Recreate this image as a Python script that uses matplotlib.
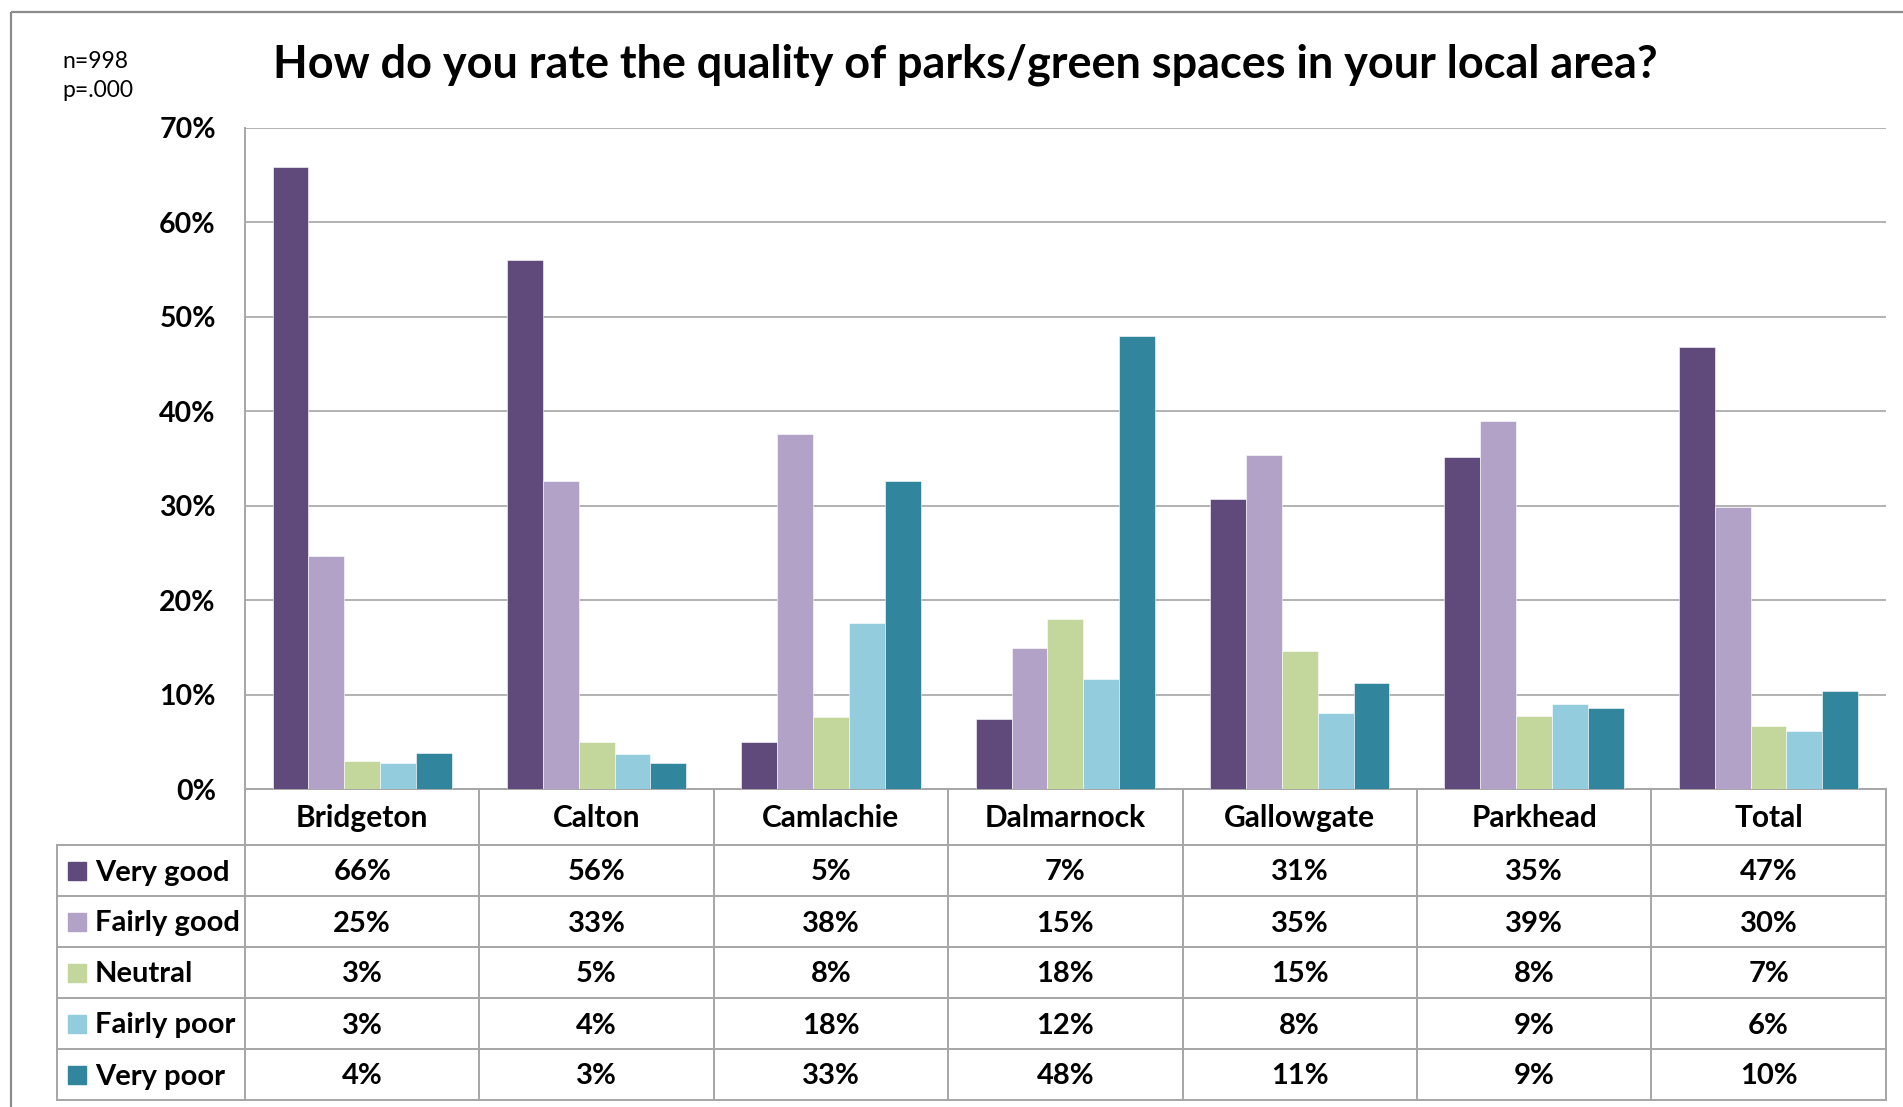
import numpy as np
import matplotlib
matplotlib.use('Agg')
import matplotlib.pyplot as plt
from matplotlib import transforms
from matplotlib.lines import Line2D
from matplotlib.patches import Rectangle

# survey results, % of respondents per area
areas = ['Bridgeton', 'Calton', 'Camlachie', 'Dalmarnock', 'Gallowgate', 'Parkhead', 'Total']
ratings = ['Very good', 'Fairly good', 'Neutral', 'Fairly poor', 'Very poor']
very_good = [65.8, 56.0, 5.0, 7.4, 30.7, 35.1, 46.8]
fairly_good = [24.7, 32.6, 37.6, 14.9, 35.4, 39.0, 29.8]
neutral = [3.0, 5.0, 7.6, 18.0, 14.6, 7.7, 6.7]
fairly_poor = [2.7, 3.7, 17.6, 11.6, 8.0, 9.0, 6.1]
very_poor = [3.8, 2.7, 32.6, 47.9, 11.2, 8.6, 10.4]
y_ticks = [0, 10, 20, 30, 40, 50, 60, 70]

title = 'How do you rate the quality of parks/green spaces in your local area?'
notes = ['n=998', 'p=.000']

colours = ['#604a7b', '#b3a2c7', '#c3d69b', '#93cddd', '#31859c']
grey = '#a6a6a6'
font = 'Lato'

W, H = 1903, 1107
fig = plt.figure(figsize=(W / 100, H / 100), dpi=100)


def box(x0, y0, x1, y1):
    # pixel box (top-left origin) -> figure fraction
    return [x0 / W, 1 - y1 / H, (x1 - x0) / W, (y1 - y0) / H]


ax = fig.add_axes(box(245, 127.7, 1885.7, 789))
series = [very_good, fairly_good, neutral, fairly_poor, very_poor]
x = np.arange(len(areas))
width = 0.153
for i, (vals, col) in enumerate(zip(series, colours)):
    ax.bar(x + (i - 2) * width, vals, width, color=col,
           edgecolor='white', linewidth=0.4, zorder=3)

ax.set_xlim(-0.5, len(areas) - 0.5)
ax.set_ylim(0, 70)
ax.set_yticks(y_ticks)
ax.set_yticklabels([f'{t}%' for t in y_ticks], fontsize=20.5,
                   fontweight='bold', family=font)
ax.set_xticks([])
ax.tick_params(axis='y', length=0, pad=21)
ax.yaxis.grid(True, color=grey, linewidth=1.2)
ax.set_axisbelow(True)
for s in ['top', 'right']:
    ax.spines[s].set_visible(False)
for s in ['left', 'bottom']:
    ax.spines[s].set_color(grey)
    ax.spines[s].set_linewidth(1.4)

# overlay in pixel coordinates for title, notes and the data table
over = fig.add_axes([0, 0, 1, 1])
over.set_xlim(0, W)
over.set_ylim(H, 0)
over.axis('off')

over.add_patch(Rectangle((11, 12), W, H, fill=False, edgecolor='#8c8c8c',
                         linewidth=1.6, clip_on=False))
over.text(273, 78, title, fontsize=32.4, fontweight='bold', family=font,
          ha='left', va='baseline')
over.text(62, 67.7, notes[0], fontsize=16.5, family=font,
          ha='left', va='baseline')
over.text(62, 97, notes[1], fontsize=16.5, family=font,
          ha='left', va='baseline')

bt = transforms.blended_transform_factory(ax.transData, over.transData)
table_top, header_bot, row_h = 789, 845, 51
row_lines = [header_bot + k * row_h for k in range(len(ratings) + 1)]
table_bot = row_lines[-1]
table_left, table_right = 56.7, 1885.7

for e in np.arange(len(areas) + 1) - 0.5:
    over.add_line(Line2D([e, e], [table_top, table_bot], transform=bt,
                         color=grey, linewidth=1.4))
over.add_line(Line2D([table_left, table_left], [header_bot, table_bot],
                     color=grey, linewidth=1.4))
for yl in row_lines:
    over.add_line(Line2D([table_left, table_right], [yl, yl],
                         color=grey, linewidth=1.4))

head_y = (table_top + header_bot) / 2 + 10
for i, name in enumerate(areas):
    over.text(i, head_y, name, transform=bt, fontsize=21.5, fontweight='bold',
              family=font, ha='center', va='baseline')

for r, (label, vals, col) in enumerate(zip(ratings, series, colours)):
    yc = header_bot + (r + 0.5) * row_h
    over.add_patch(Rectangle((67.7, yc - 9), 18, 18, color=col))
    over.text(95, yc + 10, label, fontsize=21, fontweight='bold',
              family=font, ha='left', va='baseline')
    for i, v in enumerate(vals):
        over.text(i, yc + 10, f'{v:.0f}%', transform=bt, fontsize=21,
                  fontweight='bold', family=font, ha='center', va='baseline')

fig.savefig('out.png', dpi=100)
